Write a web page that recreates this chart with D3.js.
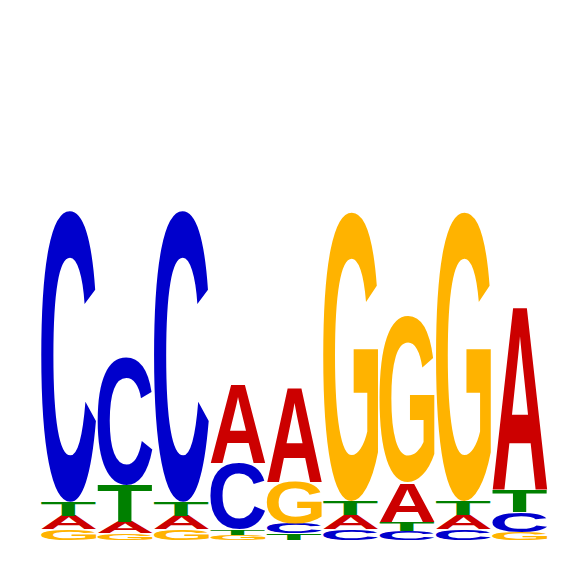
<!DOCTYPE html>
<html>
<head>
<meta charset="utf-8">
<script src="https://cdn.jsdelivr.net/npm/d3@7/dist/d3.min.js"></script>
<style>
  html, body { margin: 0; padding: 0; background: #fff; }
  svg { display: block; }
</style>
</head>
<body>
<script>
// Sequence logo data (information content in bits per letter, per position)
const positions = [1, 2, 3, 4, 5, 6, 7, 8, 9];
const letters = ["A", "C", "G", "T"];
const valuesA = [0.050, 0.041, 0.050, 0.291, 0.352, 0.051, 0.146, 0.051, 0.683];
const valuesC = [1.079, 0.473, 1.079, 0.244, 0.037, 0.040, 0.033, 0.040, 0.074];
const valuesG = [0.039, 0.025, 0.039, 0.019, 0.154, 1.071, 0.614, 1.071, 0.030];
const valuesT = [0.052, 0.138, 0.052, 0.021, 0.025, 0.053, 0.034, 0.053, 0.083];
const letterColors = ["#CC0000", "#0000CC", "#FFB300", "#008000"];

const W = 566, H = 566;
const svg = d3.select("body").append("svg").attr("width", W).attr("height", H);

const x = d3.scaleBand().domain(positions).range([41.2, 547.5]).paddingInner(0.022).paddingOuter(0);
const y = d3.scaleLinear().domain([0, 2]).range([540, 0]);
const color = d3.scaleOrdinal().domain(letters).range(letterColors);

const series = { A: valuesA, C: valuesC, G: valuesG, T: valuesT };

// tight ink metrics via canvas
const FONT = "bold 100px 'Liberation Sans', Arial, Helvetica, sans-serif";
const ctx = document.createElement("canvas").getContext("2d");
ctx.font = FONT;
const metrics = {};
letters.forEach(ch => {
  const m = ctx.measureText(ch);
  metrics[ch] = {
    x0: -m.actualBoundingBoxLeft,
    x1: m.actualBoundingBoxRight,
    y0: -m.actualBoundingBoxAscent,
    y1: m.actualBoundingBoxDescent
  };
});

const stacks = positions.map((p, i) => {
  const items = letters.map(l => ({ letter: l, value: series[l][i], pos: p }));
  items.sort((a, b) => a.value - b.value);
  let acc = 0;
  items.forEach(it => { it.y0 = acc; acc += it.value; it.y1 = acc; });
  return items;
});

const g = svg.append("g");
stacks.forEach(items => {
  g.selectAll(null).data(items).enter().append("text")
    .text(d => d.letter)
    .attr("x", 0).attr("y", 0)
    .style("font", FONT)
    .attr("fill", d => color(d.letter))
    .attr("transform", d => {
      const m = metrics[d.letter];
      const rx = x(d.pos), rw = x.bandwidth();
      const ry = y(d.y1), rh = y(d.y0) - y(d.y1);
      const sx = rw / (m.x1 - m.x0);
      const sy = rh / (m.y1 - m.y0);
      return `translate(${rx - m.x0 * sx},${ry - m.y0 * sy}) scale(${sx},${sy})`;
    });
});
</script>
</body>
</html>
